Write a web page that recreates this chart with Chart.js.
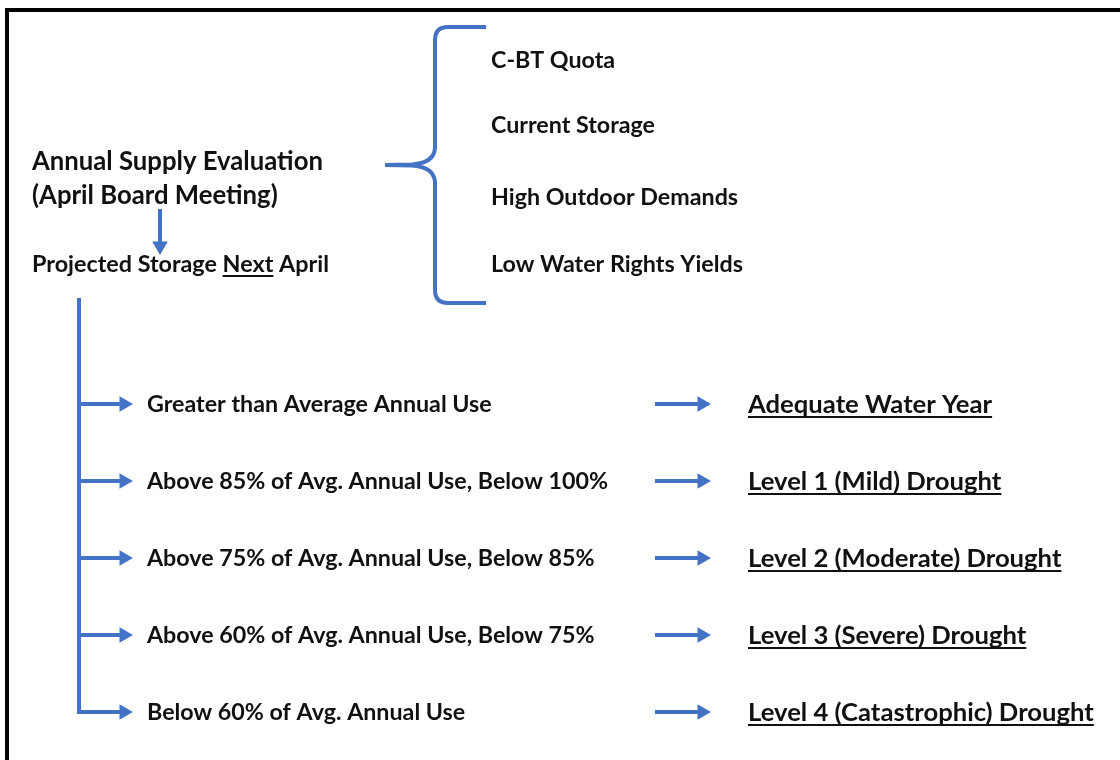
<!DOCTYPE html>
<html>
<head>
<meta charset="utf-8">
<script src="https://cdn.jsdelivr.net/npm/chart.js@4"></script>
<style>
html, body { margin: 0; padding: 0; background: #fff; }
canvas { display: block; }
</style>
</head>
<body>
<canvas id="flow" width="1120" height="760"></canvas>
<script>
// texts of the flow
var sourceLines = ['Annual Supply Evaluation', '(April Board Meeting)'];
var projectedParts = ['Projected Storage ', 'Next', ' April'];
var factors = ['C-BT Quota', 'Current Storage', 'High Outdoor Demands', 'Low Water Rights Yields'];
var conditions = [
	'Greater than Average Annual Use',
	'Above 85% of Avg. Annual Use, Below 100%',
	'Above 75% of Avg. Annual Use, Below 85%',
	'Above 60% of Avg. Annual Use, Below 75%',
	'Below 60% of Avg. Annual Use'
];
var outcomes = [
	'Adequate Water Year',
	'Level 1 (Mild) Drought',
	'Level 2 (Moderate) Drought',
	'Level 3 (Severe) Drought',
	'Level 4 (Catastrophic) Drought'
];

// layout (page units, 1120 x 760)
var layout = {
	rowY: [404, 481, 558, 635, 712],
	stemX: 79, stemTop: 298,
	branchEnd: 124, arrowStart: 655, arrowEnd: 702,
	downX: 160, downTop: 209, downEnd: 246,
	sourceX: 32, sourceBase: [170, 204],
	projectedBase: 272,
	factorX: 491, factorBase: [68, 133, 205, 272],
	condX: 147, outX: 748, textDrop: 8
};
var blue = '#4472C4';
var ink = '#111111';
var family = 'Lato, "Open Sans", sans-serif';

function seg(pts, color, width, head, rot) {
	return {
		data: pts,
		showLine: true,
		borderColor: color,
		borderWidth: width,
		pointRadius: head ? [0, 9] : 0,
		pointStyle: 'triangle',
		rotation: rot || 0,
		pointBackgroundColor: color,
		pointBorderWidth: 0,
		borderCapStyle: 'butt',
		clip: false
	};
}

var datasets = [];
// page frame
datasets.push(seg([{x: 7, y: 762}, {x: 7, y: 10}, {x: 1122, y: 10}], '#000', 4, false));
// small down arrow
datasets.push(seg([{x: layout.downX, y: layout.downTop}, {x: layout.downX, y: layout.downEnd}], blue, 4, true, 180));
// stem
datasets.push(seg([{x: layout.stemX, y: layout.stemTop}, {x: layout.stemX, y: layout.rowY[layout.rowY.length - 1] + 2}], blue, 4, false));
layout.rowY.forEach(function(y) {
	datasets.push(seg([{x: layout.stemX - 2, y: y}, {x: layout.branchEnd, y: y}], blue, 4, true, 90));
	datasets.push(seg([{x: layout.arrowStart, y: y}, {x: layout.arrowEnd, y: y}], blue, 4, true, 90));
});

function fitFont(ctx, text, target) {
	ctx.font = 'bold 100px ' + family;
	var size = 100 * target / ctx.measureText(text).width;
	return 'bold ' + size.toFixed(2) + 'px ' + family;
}

function underline(ctx, sx, x0, x1, base) {
	ctx.fillStyle = ink;
	ctx.fillRect(sx(x0), base + 3, x1 - x0, 2);
}

var textPlugin = {
	id: 'flowText',
	afterDatasetsDraw: function(chart) {
		var ctx = chart.ctx;
		var sx = function(v) { return chart.scales.x.getPixelForValue(v); };
		var sy = function(v) { return chart.scales.y.getPixelForValue(v); };
		ctx.save();

		// brace
		ctx.strokeStyle = blue;
		ctx.lineWidth = 4;
		ctx.lineJoin = 'round';
		ctx.beginPath();
		ctx.moveTo(sx(486), sy(27));
		ctx.lineTo(sx(448), sy(27));
		ctx.quadraticCurveTo(sx(435), sy(27), sx(435), sy(40));
		ctx.lineTo(sx(435), sy(148));
		ctx.quadraticCurveTo(sx(434), sy(163), sx(412), sy(164.5));
		ctx.lineTo(sx(385), sy(165));
		ctx.moveTo(sx(385), sy(165));
		ctx.lineTo(sx(412), sy(165.5));
		ctx.quadraticCurveTo(sx(434), sy(167), sx(435), sy(182));
		ctx.lineTo(sx(435), sy(290));
		ctx.quadraticCurveTo(sx(435), sy(303), sx(448), sy(303));
		ctx.lineTo(sx(486), sy(303));
		ctx.stroke();

		ctx.fillStyle = ink;
		ctx.textBaseline = 'alphabetic';
		ctx.textAlign = 'left';

		// source
		ctx.font = fitFont(ctx, sourceLines[0], 291);
		sourceLines.forEach(function(t, i) {
			ctx.fillText(t, sx(layout.sourceX), sy(layout.sourceBase[i]));
		});

		// projected storage, "Next" underlined
		ctx.font = fitFont(ctx, projectedParts.join(''), 297);
		var px = layout.sourceX;
		projectedParts.forEach(function(t, i) {
			var w = ctx.measureText(t).width;
			ctx.fillText(t, sx(px), sy(layout.projectedBase));
			if (i === 1) underline(ctx, sx, px, px + w, sy(layout.projectedBase));
			px += w;
		});

		// factors
		ctx.font = fitFont(ctx, factors[3], 252);
		factors.forEach(function(t, i) {
			ctx.fillText(t, sx(layout.factorX), sy(layout.factorBase[i]));
		});

		// conditions
		ctx.font = fitFont(ctx, conditions[1], 461);
		conditions.forEach(function(t, i) {
			ctx.fillText(t, sx(layout.condX), sy(layout.rowY[i] + layout.textDrop));
		});

		// outcomes, underlined
		ctx.font = fitFont(ctx, outcomes[4], 346);
		outcomes.forEach(function(t, i) {
			var base = sy(layout.rowY[i] + layout.textDrop + 1);
			ctx.fillText(t, sx(layout.outX), base);
			underline(ctx, sx, layout.outX, layout.outX + ctx.measureText(t).width, base);
		});
		ctx.restore();
	}
};

new Chart(document.getElementById('flow').getContext('2d'), {
	type: 'scatter',
	data: { datasets: datasets },
	options: {
		responsive: false,
		animation: false,
		devicePixelRatio: 1,
		layout: { padding: 0, autoPadding: false },
		plugins: { legend: { display: false }, tooltip: { enabled: false } },
		scales: {
			x: { type: 'linear', min: 0, max: 1120, display: false },
			y: { type: 'linear', min: 0, max: 760, reverse: true, display: false }
		}
	},
	plugins: [textPlugin]
});
</script>
</body>
</html>
